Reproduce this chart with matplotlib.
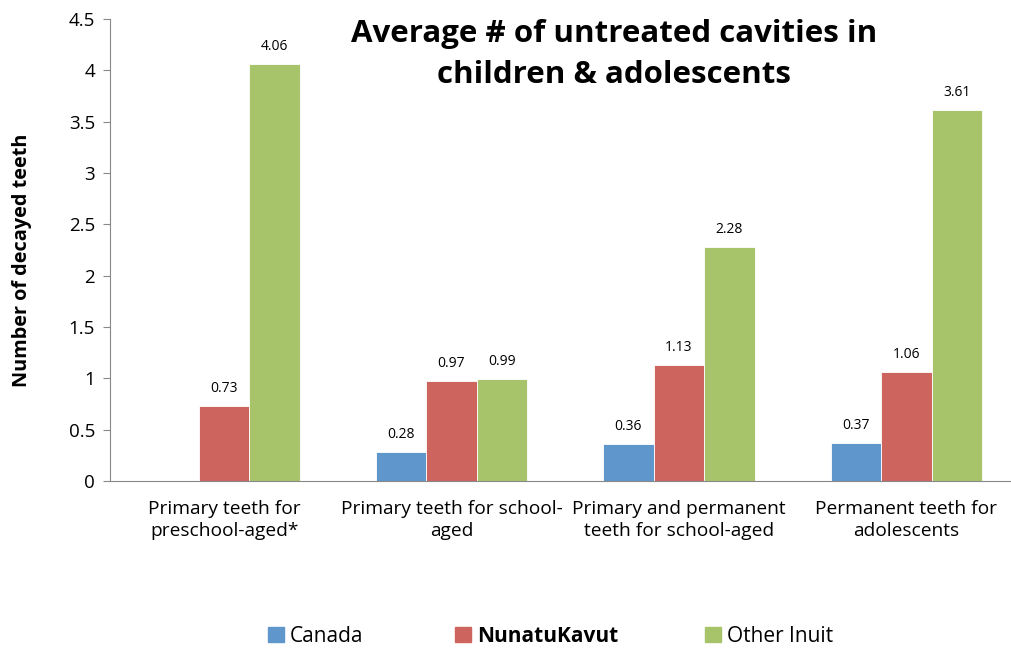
import matplotlib
matplotlib.use("Agg")
import matplotlib.pyplot as plt
import numpy as np
from matplotlib.patches import Patch

categories = ["Primary teeth for\npreschool-aged*", "Primary teeth for school-\naged",
              "Primary and permanent\nteeth for school-aged", "Permanent teeth for\nadolescents"]
series_names = ["Canada", "NunatuKavut", "Other Inuit"]
canada = [np.nan, 0.28, 0.36, 0.37]
nunatukavut = [0.73, 0.97, 1.13, 1.06]
other_inuit = [4.06, 0.99, 2.28, 3.61]
yticks = [0, 0.5, 1, 1.5, 2, 2.5, 3, 3.5, 4, 4.5]
ytick_labels = ["0", "0.5", "1", "1.5", "2", "2.5", "3", "3.5", "4", "4.5"]

colors = ["#5F96CB", "#CD645E", "#A8C46A"]
font = ["Open Sans", "DejaVu Sans"]
plt.rcParams['font.family'] = font

W, H = 1011, 648
fig = plt.figure(figsize=(W/100, H/100), dpi=100)
left, right, bottom, top = 110.4, 1020, 481, 19
ax = fig.add_axes([left/W, 1-bottom/H, (right-left)/W, (bottom-top)/H])

x = np.arange(len(categories))
bw = 0.222
for i, (vals, c) in enumerate(zip([canada, nunatukavut, other_inuit], colors)):
    xs = x + (i-1)*bw
    ax.bar(xs, np.nan_to_num(vals), width=bw, color=c, edgecolor="white", linewidth=0.6)
    for xi, v in zip(xs, vals):
        if not np.isnan(v):
            ax.text(xi, v + 0.1, f"{v:.2f}", ha="center", va="bottom", fontsize=10)

ax.set_xlim(-0.5, 3.5)
ax.set_ylim(0, 4.5)
ax.set_yticks(yticks)
ax.set_yticklabels(ytick_labels, fontsize=13.5)
ax.set_xticks(x)
ax.set_xticklabels(categories, fontsize=13.8, linespacing=1.25)
ax.tick_params(axis='x', length=0, pad=14)
ax.tick_params(axis='y', length=5, color="#888888", pad=6)
for s in ["top", "right"]:
    ax.spines[s].set_visible(False)
for s in ["left", "bottom"]:
    ax.spines[s].set_color("#888888")
ax.set_ylabel("Number of decayed teeth", fontsize=14.3, fontweight="bold")
ax.yaxis.set_label_coords((32 - left)/(right-left), (481-260)/(481-19))

fig.text(614/W, 1-34/H, "Average # of untreated cavities in", ha="center", va="center",
         fontsize=22.5, fontweight="bold")
fig.text(614/W, 1-75/H, "children & adolescents", ha="center", va="center",
         fontsize=22.5, fontweight="bold")

marker_x = [268, 455, 705]
for i, (name, c, mx) in enumerate(zip(series_names, colors, marker_x)):
    leg = fig.legend([Patch(color=c)], [name], loc="center left",
                     bbox_to_anchor=(mx/W, 1-636/H), frameon=False, fontsize=15,
                     handlelength=0.75, handleheight=0.75, handletextpad=0.3,
                     borderpad=0, borderaxespad=0)
    if i == 1:
        leg.get_texts()[0].set_fontweight("bold")

fig.savefig("out.png", dpi=100)
